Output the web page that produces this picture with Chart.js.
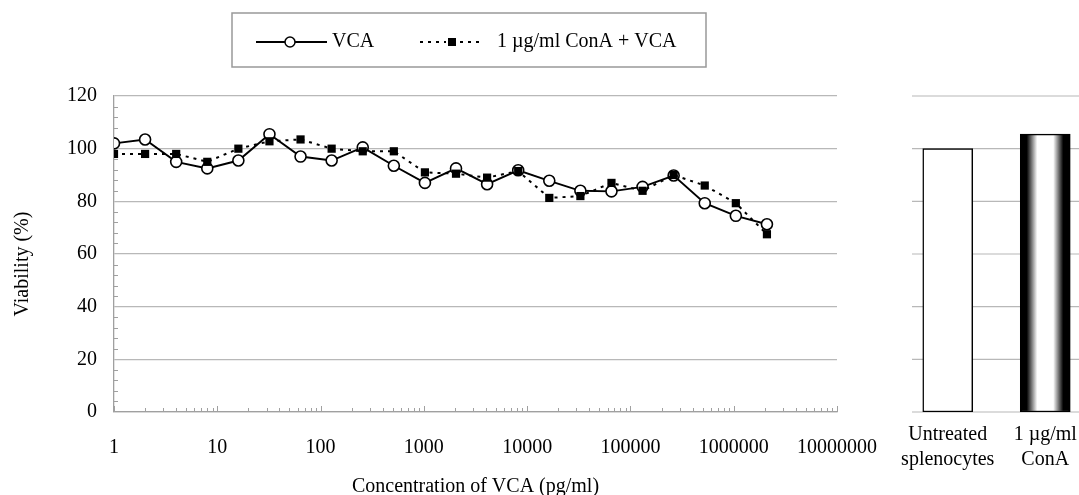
<!DOCTYPE html>
<html>
<head>
<meta charset="utf-8">
<script src="https://cdn.jsdelivr.net/npm/chart.js@4"></script>
<style>
  body { margin: 0; background: #fff; overflow: hidden; width: 1079px; height: 495px; position: relative; }
  #lineChart { position: absolute; left: 0; top: 0; }
  #barChart { position: absolute; left: 880px; top: 0; }
</style>
</head>
<body>
<canvas id="lineChart" width="880" height="495"></canvas>
<canvas id="barChart" width="220" height="495"></canvas>
<script>
// concentrations (pg/ml), two-fold dilutions
var concentrations = [1, 2, 4, 8, 16, 32, 64, 128, 256, 512, 1024, 2048, 4096, 8192,
  16384, 32768, 65536, 131072, 262144, 524288, 1048576, 2097152];
var vcaValues = [102, 103.5, 95, 92.5, 95.5, 105.5, 97, 95.5, 100.5, 93.5, 87, 92.5,
  86.5, 91.8, 87.8, 84, 83.8, 85.5, 89.8, 79.3, 74.5, 71.3];
var conaVcaValues = [98, 98, 98, 95, 100, 102.8, 103.5, 100, 99, 99, 91, 90.5,
  89, 91.5, 81.3, 82, 87, 84, 90, 86, 79.3, 67.5];

var controlLabels = [['Untreated', 'splenocytes'], ['1 µg/ml', 'ConA']];
var controlValues = [100, 105.5];

var seriesNames = ['VCA', '1 µg/ml ConA + VCA'];
var xTitle = 'Concentration of VCA (pg/ml)';
var yTitle = 'Viability (%)';

const FONT = 'Liberation Serif';
const gridColor = '#b8b8b8';
const axisColor = '#a0a0a0';
const barWidth = 50;

function toPoints(values) {
  return values.map(function (v, i) { return { x: concentrations[i], y: v }; });
}

// small tick marks pointing into the plot, like the original
const innerTicks = {
  id: 'innerTicks',
  beforeDatasetsDraw(chart) {
    const ctx = chart.ctx;
    const x = chart.scales.x, y = chart.scales.y;
    const bottom = chart.chartArea.bottom, left = chart.chartArea.left;
    ctx.save();
    ctx.strokeStyle = axisColor;
    ctx.lineWidth = 1;
    ctx.beginPath();
    for (let d = 0; d < 7; d++) {
      for (let k = 1; k <= 9; k++) {
        const px = Math.round(x.getPixelForValue(k * Math.pow(10, d))) + 0.5;
        const len = k === 1 ? 6 : 4;
        ctx.moveTo(px, bottom);
        ctx.lineTo(px, bottom - len);
      }
    }
    const end = Math.round(x.getPixelForValue(x.max)) + 0.5;
    ctx.moveTo(end, bottom);
    ctx.lineTo(end, bottom - 6);
    for (let v = 4; v < y.max; v += 4) {
      if (v % 20 === 0) continue;
      const py = Math.round(y.getPixelForValue(v)) + 0.5;
      ctx.moveTo(left, py);
      ctx.lineTo(left + 4, py);
    }
    ctx.stroke();
    ctx.restore();
  }
};

// y title sits a bit below the middle of the axis in the original
const yAxisTitle = {
  id: 'yAxisTitle',
  afterDraw(chart) {
    const ctx = chart.ctx;
    const a = chart.chartArea;
    ctx.save();
    ctx.translate(23, (a.top + a.bottom) / 2 + 10);
    ctx.rotate(-Math.PI / 2);
    ctx.font = '20px "' + FONT + '"';
    ctx.fillStyle = '#000';
    ctx.textAlign = 'center';
    ctx.textBaseline = 'middle';
    ctx.fillText(yTitle, 0, 0);
    ctx.restore();
  }
};

// boxed legend with line + marker samples
const boxLegend = {
  id: 'boxLegend',
  afterDraw(chart) {
    const ctx = chart.ctx;
    const cy = 42;
    ctx.save();
    ctx.strokeStyle = '#999';
    ctx.lineWidth = 1.5;
    ctx.strokeRect(232, 13, 474, 54);

    ctx.strokeStyle = '#000';
    ctx.lineWidth = 1.8;
    ctx.beginPath();
    ctx.moveTo(256, cy); ctx.lineTo(327, cy);
    ctx.stroke();
    ctx.beginPath();
    ctx.arc(290, cy, 5, 0, Math.PI * 2);
    ctx.fillStyle = '#fff';
    ctx.fill();
    ctx.lineWidth = 1.5;
    ctx.stroke();

    ctx.setLineDash([3, 5]);
    ctx.lineWidth = 2;
    ctx.beginPath();
    ctx.moveTo(420, cy); ctx.lineTo(484, cy);
    ctx.stroke();
    ctx.setLineDash([]);
    ctx.fillStyle = '#fff';
    ctx.fillRect(446, cy - 6, 12, 12);
    ctx.fillStyle = '#000';
    ctx.fillRect(448, cy - 4, 8, 8);

    ctx.font = '20px "' + FONT + '"';
    ctx.textBaseline = 'middle';
    ctx.fillText(seriesNames[0], 332, cy);
    ctx.fillText(seriesNames[1], 497, cy);
    ctx.restore();
  }
};

new Chart('lineChart', {
  type: 'line',
  data: {
    datasets: [{
      label: seriesNames[0],
      data: toPoints(vcaValues),
      order: 1,
      borderColor: '#000',
      borderWidth: 1.9,
      pointStyle: 'circle',
      pointRadius: 5.5,
      pointBorderWidth: 1.6,
      pointBackgroundColor: '#fff',
      pointBorderColor: '#000'
    }, {
      label: seriesNames[1],
      data: toPoints(conaVcaValues),
      order: 0,
      borderColor: '#000',
      borderWidth: 2,
      borderDash: [3, 5],
      pointStyle: 'rect',
      pointRadius: 5.8,
      pointBorderWidth: 0,
      pointBackgroundColor: '#000'
    }]
  },
  options: {
    responsive: false,
    animation: false,
    layout: { padding: { top: 96, right: 43, bottom: 0, left: 0 } },
    plugins: { legend: { display: false }, tooltip: { enabled: false } },
    scales: {
      x: {
        type: 'logarithmic',
        min: 1,
        max: 10000000,
        afterFit: function (s) { s.height = 83; s.paddingRight = 0; s.paddingLeft = 0; },
        grid: { display: false, drawTicks: false },
        border: { display: true, color: axisColor, width: 1.3 },
        ticks: {
          autoSkip: false,
          maxRotation: 0,
          padding: 24,
          color: '#000',
          font: { family: FONT, size: 20 },
          callback: function (v) {
            const e = Math.log10(v);
            return Math.abs(e - Math.round(e)) < 1e-9 ? String(Math.round(v)) : '';
          }
        },
        title: {
          display: true,
          text: xTitle,
          color: '#000',
          font: { family: FONT, size: 20, lineHeight: 1 },
          padding: { top: 0, bottom: -2 }
        }
      },
      y: {
        min: 0,
        max: 120,
        afterFit: function (s) { s.width = 114; },
        grid: { color: gridColor, lineWidth: 1.2, drawTicks: false },
        border: { display: true, color: axisColor, width: 1.3 },
        ticks: {
          stepSize: 20,
          padding: 17,
          color: '#000',
          font: { family: FONT, size: 20 }
        }
      }
    }
  },
  plugins: [innerTicks, yAxisTitle, boxLegend]
});

// horizontal grid for the control panel, starting a little right of the canvas edge
const controlGrid = {
  id: 'controlGrid',
  beforeDatasetsDraw(chart) {
    const ctx = chart.ctx;
    const y = chart.scales.y;
    ctx.save();
    ctx.strokeStyle = gridColor;
    ctx.lineWidth = 1.2;
    ctx.beginPath();
    for (let v = y.min; v <= y.max; v += 20) {
      const py = y.getPixelForValue(v);
      ctx.moveTo(32, py);
      ctx.lineTo(chart.width, py);
    }
    ctx.stroke();
    ctx.restore();
  }
};

new Chart('barChart', {
  type: 'bar',
  data: {
    labels: controlLabels,
    datasets: [{
      data: controlValues,
      barThickness: barWidth,
      borderColor: '#000',
      borderWidth: 1.5,
      borderSkipped: false,
      backgroundColor: function (c) {
        if (c.dataIndex === 0) return '#fff';
        const chart = c.chart;
        const sx = chart.scales.x;
        if (!chart.chartArea || !sx) return '#000';
        const cx = sx.getPixelForValue(c.dataIndex);
        const g = chart.ctx.createLinearGradient(cx - barWidth / 2, 0, cx + barWidth / 2, 0);
        g.addColorStop(0, '#000');
        g.addColorStop(0.13, '#000');
        g.addColorStop(0.34, '#fff');
        g.addColorStop(0.66, '#fff');
        g.addColorStop(0.86, '#000');
        g.addColorStop(1, '#000');
        return g;
      }
    }]
  },
  options: {
    responsive: false,
    animation: false,
    layout: { padding: { top: 96, right: 6, bottom: 0, left: 19 } },
    plugins: { legend: { display: false }, tooltip: { enabled: false } },
    scales: {
      x: {
        afterFit: function (s) { s.height = 83; },
        grid: { display: false, drawTicks: false },
        border: { display: false },
        ticks: {
          autoSkip: false,
          maxRotation: 0,
          minRotation: 0,
          padding: 10,
          color: '#000',
          font: { family: FONT, size: 20, lineHeight: 1.25 }
        }
      },
      y: {
        display: false,
        min: 0,
        max: 120
      }
    }
  },
  plugins: [controlGrid]
});
</script>
</body>
</html>
